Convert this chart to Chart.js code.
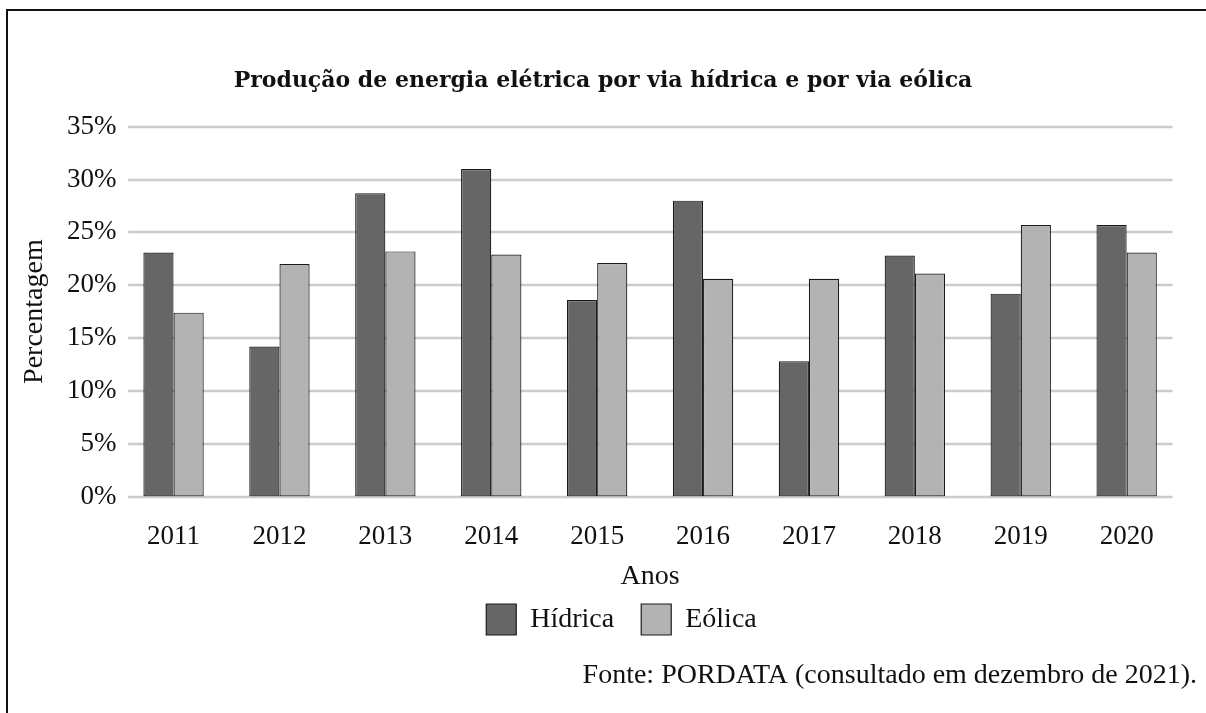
<!DOCTYPE html>
<html>
<head>
<meta charset="utf-8">
<script src="https://cdn.jsdelivr.net/npm/chart.js@4"></script>
<style>
  html, body { margin: 0; padding: 0; background: #fff; overflow: hidden; }
  #wrap { position: relative; width: 1206px; height: 713px; overflow: hidden; background: #fff; }
  #frame { position: absolute; left: 6px; top: 9px; width: 1300px; height: 800px; border: 2px solid #111; box-sizing: border-box; pointer-events: none; }
  canvas { position: absolute; left: 0; top: 0; }
</style>
</head>
<body>
<div id="wrap">
  <canvas id="c" width="1206" height="713"></canvas>
  <div id="frame"></div>
</div>
<script>
// ---- data ----
const years = ['2011', '2012', '2013', '2014', '2015', '2016', '2017', '2018', '2019', '2020'];
const hidrica = [23.1, 14.2, 28.7, 31.0, 18.6, 28.0, 12.8, 22.8, 19.2, 25.7];
const eolica = [17.4, 22.0, 23.2, 22.9, 22.1, 20.6, 20.6, 21.1, 25.7, 23.1];
const seriesNames = ['Hídrica', 'Eólica'];
const yMin = 0, yMax = 35, yStep = 5;
const titleText = 'Produção de energia elétrica por via hídrica e por via eólica';
const xTitle = 'Anos';
const yTitle = 'Percentagem';
const sourceText = 'Fonte: PORDATA (consultado em dezembro de 2021).';

const SERIF = "'Liberation Serif', 'Times New Roman', serif";
const TXT = '#111111';

// light gray horizontal grid, slightly inset like the original
const insetGrid = {
  id: 'insetGrid',
  beforeDatasetsDraw(chart) {
    const {ctx, chartArea} = chart;
    const ys = chart.scales.y;
    ctx.save();
    ctx.strokeStyle = '#cccccc';
    ctx.lineWidth = 2.5;
    ys.ticks.forEach(t => {
      const py = Math.round(ys.getPixelForValue(t.value));
      ctx.beginPath();
      ctx.moveTo(chartArea.left + 7.5, py);
      ctx.lineTo(chartArea.right - 7, py);
      ctx.stroke();
    });
    ctx.restore();
  }
};
const whiteBg = {
  id: 'whiteBg',
  beforeDraw(chart) {
    const {ctx} = chart;
    ctx.save();
    ctx.fillStyle = '#ffffff';
    ctx.fillRect(0, 0, chart.width, chart.height);
    ctx.restore();
  }
};
// the original legend sits a little right of the page centre
const legendShift = {
  id: 'legendShift',
  afterLayout(chart) {
    const lg = chart.legend;
    if (lg) { lg.left += 18.5; lg.right += 18.5; }
  }
};

new Chart(document.getElementById('c'), {
  type: 'bar',
  data: {
    labels: years,
    datasets: [
      { label: seriesNames[0], data: hidrica, backgroundColor: '#666666', borderColor: '#1a1a1a', borderWidth: 1.2, borderSkipped: false, yAxisID: 'y' },
      { label: seriesNames[1], data: eolica, backgroundColor: '#b3b3b3', borderColor: '#1a1a1a', borderWidth: 1.2, borderSkipped: false, yAxisID: 'y' }
    ]
  },
  options: {
    responsive: false,
    animation: false,
    devicePixelRatio: 1,
    layout: { padding: { left: 9, right: 9, top: 0, bottom: 0 } },
    datasets: { bar: { categoryPercentage: 0.57, barPercentage: 1.0 } },
    scales: {
      x: {
        grid: { display: false, drawTicks: false },
        border: { display: false },
        ticks: { padding: 24, color: TXT, font: { family: SERIF, size: 27 } },
        title: { display: true, text: xTitle, color: TXT, font: { family: SERIF, size: 28 }, padding: { top: 0, bottom: -16.5 } },
        afterFit(s) { s.height = 80.5; }
      },
      y: {
        min: yMin, max: yMax,
        grid: { display: false, drawTicks: false },
        border: { display: false },
        ticks: { stepSize: yStep, padding: 4, color: TXT, font: { family: SERIF, size: 27 }, callback: v => v + '%' },
        title: { display: true, text: yTitle, color: TXT, font: { family: SERIF, size: 28 }, padding: { top: 8.7, bottom: 0 } },
        afterFit(s) { s.width = 111.6; }
      },
      yR: {
        position: 'right',
        display: true,
        grid: { display: false, drawTicks: false },
        border: { display: false },
        ticks: { display: false },
        afterFit(s) { s.width = 17.4; }
      }
    },
    plugins: {
      title: {
        display: true, text: titleText, color: TXT,
        font: { family: "'DejaVu Serif', serif", size: 22, weight: 'bold' },
        padding: { top: 67.8, bottom: 32.5 }
      },
      subtitle: {
        display: true, text: sourceText, position: 'bottom', align: 'end', color: TXT,
        font: { family: SERIF, size: 28 },
        padding: { top: 13.7, bottom: 20.7 }
      },
      legend: {
        position: 'bottom',
        labels: { boxWidth: 30, boxHeight: 31, padding: 27, color: TXT, font: { family: SERIF, size: 28 } }
      },
      tooltip: { enabled: false }
    }
  },
  plugins: [whiteBg, insetGrid, legendShift]
});
</script>
</body>
</html>
